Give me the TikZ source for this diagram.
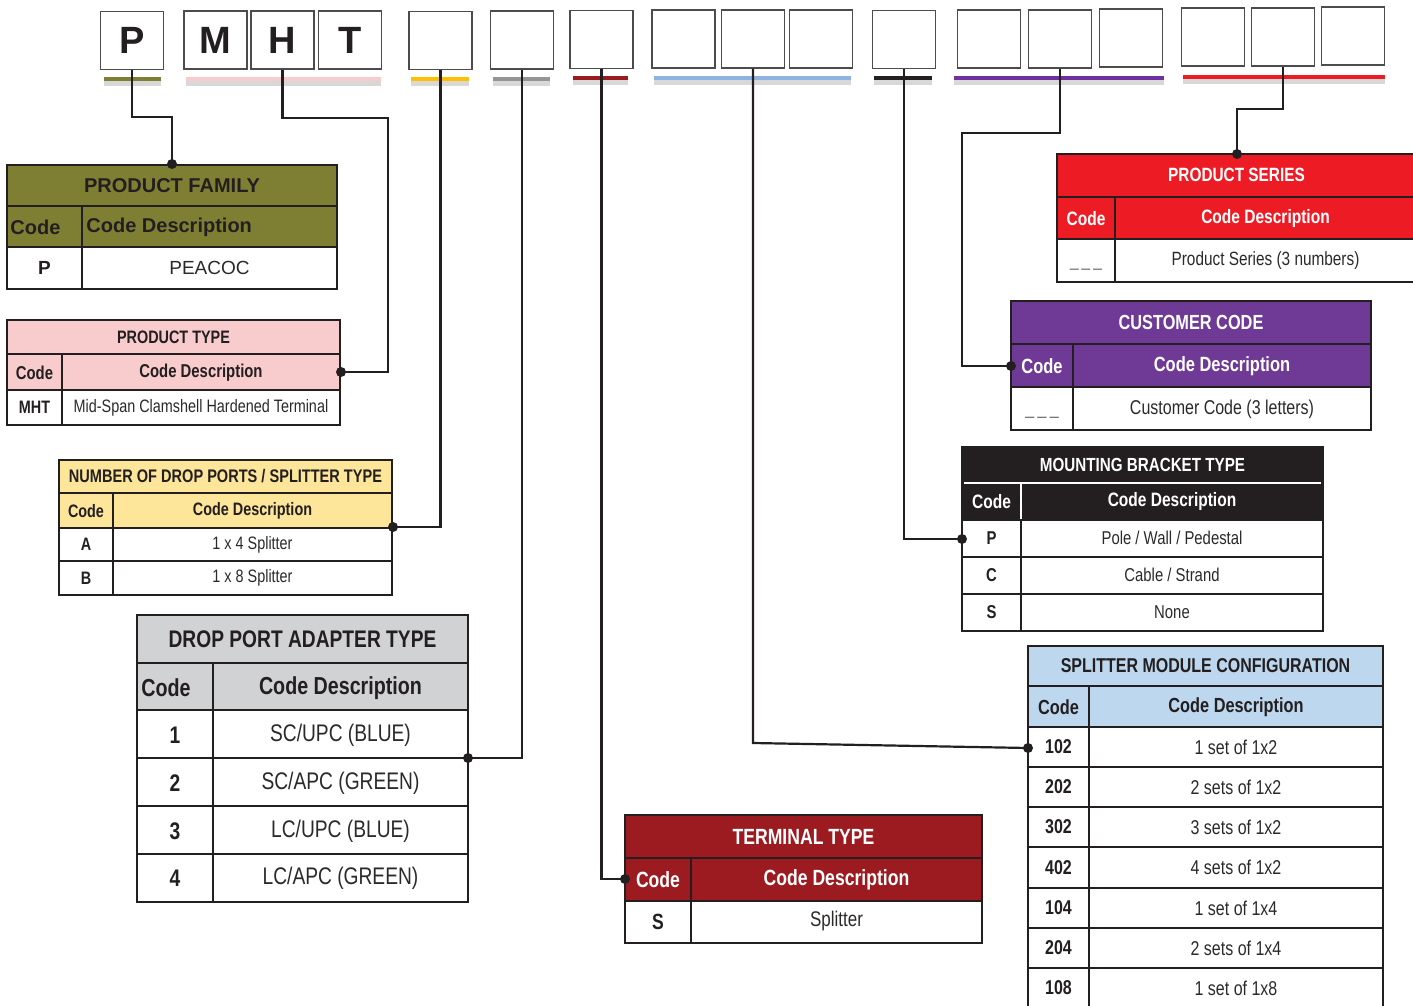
\documentclass[tikz,border=0pt]{standalone}
\usepackage{fontspec}
\setmainfont{Liberation Sans}
\newfontfamily\narrowfont[FakeStretch=0.8]{Liberation Sans}
\usepackage{tikz}

\definecolor{inkdark}{HTML}{231F20}
\definecolor{txtgray}{HTML}{2A2A2A}
\definecolor{famolive}{HTML}{7F7F33}
\definecolor{typpink}{HTML}{F8CBCD}
\definecolor{portyellow}{HTML}{FDE69A}
\definecolor{portgold}{HTML}{FFC000}
\definecolor{adagray}{HTML}{D1D2D4}
\definecolor{adabar}{HTML}{939598}
\definecolor{termred}{HTML}{9B1B20}
\definecolor{splblue}{HTML}{BDD7EE}
\definecolor{splbar}{HTML}{8DB3E2}
\definecolor{custpurple}{HTML}{6F3996}
\definecolor{custbar}{HTML}{7030A0}
\definecolor{serred}{HTML}{ED1C24}

\begin{document}
\begin{tikzpicture}[x=0.5pt,y=0.5pt,yscale=-1,
  codebox/.style={draw=black!70,line width=0.7pt,minimum width=31.5pt,minimum height=29pt,inner sep=0pt,text=inkdark,font=\bfseries\fontsize{19}{19}\selectfont},
  tabline/.style={draw=inkdark,line width=1.2pt},
  wire/.style={draw=inkdark,line width=1.1pt},
  bar/.style={line width=2.2pt},
  barshade/.style={draw=black!30,line width=3pt,opacity=0.5},
  hd/.style={inner sep=0pt,text=inkdark,font=\narrowfont\bfseries\fontsize{#1}{#1}\selectfont},
  tx/.style={inner sep=0pt,text=txtgray,font=\narrowfont\fontsize{#1}{#1}\selectfont},
  hdw/.style={inner sep=0pt,text=inkdark,font=\bfseries\fontsize{#1}{#1}\selectfont},
  txw/.style={inner sep=0pt,text=txtgray,font=\fontsize{#1}{#1}\selectfont}]
\useasboundingbox (0,0) rectangle (1413,1006);

% code boxes
\node[codebox] (famP) at (132,40.5) {P};
\node[codebox] (typM) at (215.5,40) {M};
\node[codebox] (typH) at (282.5,40) {H};
\node[codebox] (typT) at (350,40) {T};
\node[codebox] (ports) at (440.5,40.5) {};
\node[codebox] (adapt) at (522,40) {};
\node[codebox] (term) at (601.5,39.5) {};
\node[codebox] (splA) at (683.5,39) {};
\node[codebox] (splB) at (753,39) {};
\node[codebox] (splC) at (821,39) {};
\node[codebox] (mount) at (904,39.5) {};
\node[codebox] (custA) at (989,39) {};
\node[codebox] (custB) at (1060,39) {};
\node[codebox] (custC) at (1131,38) {};
\node[codebox] (serA) at (1213,37) {};
\node[codebox] (serB) at (1283,37) {};
\node[codebox] (serC) at (1353,36) {};

% colour bars
\draw[barshade] (104,83) -- (161,83);   \draw[bar,famolive] (104,79) -- (161,79);
\draw[barshade] (186,83) -- (381,83);   \draw[bar,typpink] (186,79) -- (381,79);
\draw[barshade] (411,83) -- (469,83);   \draw[bar,portgold] (411,79) -- (469,79);
\draw[barshade] (493,83) -- (550,83);   \draw[bar,adabar] (493,79) -- (550,79);
\draw[barshade] (573,82) -- (628,82);   \draw[bar,termred] (573,78) -- (628,78);
\draw[barshade] (654,82) -- (851,82);   \draw[bar,splbar] (654,78) -- (851,78);
\draw[barshade] (874,82) -- (932,82);   \draw[bar,inkdark] (874,78) -- (932,78);
\draw[barshade] (954,82) -- (1164,82);  \draw[bar,custbar] (954,78) -- (1164,78);
\draw[barshade] (1183,81) -- (1385,81); \draw[bar,serred] (1183,77) -- (1385,77);

%Table: product family
\fill[famolive] (7,165) rectangle (337,247);
\draw[tabline] (7,165) rectangle (337,289);
\draw[tabline] (7,206) -- (337,206) (7,247) -- (337,247) (82,206) -- (82,289);
\node[hdw=10] (famTitle) at (172,185.5) {PRODUCT FAMILY};
\node[hdw=10,anchor=west] (famCode) at (10,227.5) {Code};
\node[hdw=10,anchor=west] (famDesc) at (86,227.5) {Code Description};
\node[hdw=9.5] (famC1) at (44.5,268) {P};
\node[txw=9.5] (famD1) at (209.5,268) {PEACOC};

%Table: product type
\fill[typpink] (7,320) rectangle (340,390);
\draw[tabline] (7,320) rectangle (340,425);
\draw[tabline] (7,354) -- (340,354) (7,390) -- (340,390) (62,354) -- (62,425);
\node[hd=9] (typTitle) at (173.5,337) {PRODUCT TYPE};
\node[hd=9.3] (typCode) at (34.5,373) {Code};
\node[hd=9.3] (typDesc) at (201,373) {Code Description};
\node[hd=9] (typC1) at (34.5,407.5) {MHT};
\node[tx=9] (typD1) at (201,407.5) {Mid-Span Clamshell Hardened Terminal};

%Table: drop ports / splitter type
\fill[portyellow] (59,460) rectangle (392,528);
\draw[tabline] (59,460) rectangle (392,595);
\draw[tabline] (59,493) -- (392,493) (59,528) -- (392,528) (59,561) -- (392,561) (113,493) -- (113,595);
\node[hd=9.1] (portTitle) at (225.5,476.5) {NUMBER OF DROP PORTS / SPLITTER TYPE};
\node[hd=9] (portCode) at (86,511) {Code};
\node[hd=9] (portDesc) at (252.5,511) {Code Description};
\node[hd=9] (portC1) at (86,544.5) {A};
\node[tx=9] (portD1) at (252.5,544.5) {1 x 4 Splitter};
\node[hd=9] (portC2) at (86,578) {B};
\node[tx=9] (portD2) at (252.5,578) {1 x 8 Splitter};

%Table: drop port adapter type
\fill[adagray] (137,615) rectangle (468,710);
\draw[tabline] (137,615) rectangle (468,902);
\draw[tabline] (137,663) -- (468,663) (137,710) -- (468,710) (137,758) -- (468,758)
  (137,806) -- (468,806) (137,854) -- (468,854) (213,663) -- (213,902);
\node[hd=12] (adaTitle) at (302.5,639) {DROP PORT ADAPTER TYPE};
\node[hd=12.3,anchor=west] (adaCode) at (141,688) {Code};
\node[hd=12.3] (adaDesc) at (340.5,688) {Code Description};
\node[hd=12] (adaC1) at (175,735) {1};
\node[tx=12] (adaD1) at (340.5,735) {SC/UPC (BLUE)};
\node[hd=12] (adaC2) at (175,783) {2};
\node[tx=12] (adaD2) at (340.5,783) {SC/APC (GREEN)};
\node[hd=12] (adaC3) at (175,831) {3};
\node[tx=12] (adaD3) at (340.5,831) {LC/UPC (BLUE)};
\node[hd=12] (adaC4) at (175,878) {4};
\node[tx=12] (adaD4) at (340.5,878) {LC/APC (GREEN)};

%Table: terminal type
\fill[termred] (625,815) rectangle (982,901);
\draw[tabline] (625,815) rectangle (982,943);
\draw[tabline] (625,858) -- (982,858) (625,901) -- (982,901) (691,858) -- (691,943);
\node[hd=11,text=white] (termTitle) at (803.5,836.5) {TERMINAL TYPE};
\node[hd=11,text=white] (termCode) at (658,880) {Code};
\node[hd=11,text=white] (termDesc) at (836.5,880) {Code Description};
\node[hd=11] (termC1) at (658,922) {S};
\node[tx=10.6] (termD1) at (836.5,921) {Splitter};

%Table: splitter module configuration
\fill[splblue] (1028,646) rectangle (1383,727);
\draw[tabline] (1028,1012) -- (1028,646) -- (1383,646) -- (1383,1012);
\draw[tabline] (1028,686) -- (1383,686) (1028,727) -- (1383,727) (1028,767) -- (1383,767)
  (1028,807) -- (1383,807) (1028,847) -- (1383,847) (1028,888) -- (1383,888)
  (1028,928) -- (1383,928) (1028,968) -- (1383,968) (1089,686) -- (1089,1012);
\node[hd=10] (splTitle) at (1205.5,666) {SPLITTER MODULE CONFIGURATION};
\node[hd=10.2] (splCode) at (1058.5,707.5) {Code};
\node[hd=10.2] (splDesc) at (1236,707.5) {Code Description};
\node[hd=10] (splC1) at (1058.5,747) {102};
\node[tx=10] (splD1) at (1236,747) {1 set of 1x2};
\node[hd=10] (splC2) at (1058.5,787) {202};
\node[tx=10] (splD2) at (1236,787) {2 sets of 1x2};
\node[hd=10] (splC3) at (1058.5,827) {302};
\node[tx=10] (splD3) at (1236,827) {3 sets of 1x2};
\node[hd=10] (splC4) at (1058.5,867.5) {402};
\node[tx=10] (splD4) at (1236,867.5) {4 sets of 1x2};
\node[hd=10] (splC5) at (1058.5,908) {104};
\node[tx=10] (splD5) at (1236,908) {1 set of 1x4};
\node[hd=10] (splC6) at (1058.5,948) {204};
\node[tx=10] (splD6) at (1236,948) {2 sets of 1x4};
\node[hd=10] (splC7) at (1058.5,988) {108};
\node[tx=10] (splD7) at (1236,988) {1 set of 1x8};

%Table: mounting bracket type
\fill[inkdark] (962,447) rectangle (1323,520);
\draw[tabline] (962,447) rectangle (1323,631);
\draw[white,line width=0.8pt] (964,483) -- (1321,483) (1021,483) -- (1021,519);
\draw[tabline] (962,520) -- (1323,520) (962,557) -- (1323,557) (962,594) -- (1323,594) (1021,520) -- (1021,631);
\node[hd=9.5,text=white] (mntTitle) at (1142.5,465) {MOUNTING BRACKET TYPE};
\node[hd=9.7,text=white] (mntCode) at (991.5,502) {Code};
\node[hd=9.7,text=white] (mntDesc) at (1172,501) {Code Description};
\node[hd=9.3] (mntC1) at (991.5,538.5) {P};
\node[tx=9.3] (mntD1) at (1172,538) {Pole / Wall / Pedestal};
\node[hd=9.3] (mntC2) at (991.5,575.5) {C};
\node[tx=9.3] (mntD2) at (1172,575) {Cable / Strand};
\node[hd=9.3] (mntC3) at (991.5,612.5) {S};
\node[tx=9.3] (mntD3) at (1172,612) {None};

%Table: customer code
\fill[custpurple] (1011,301) rectangle (1371,387);
\draw[tabline] (1011,301) rectangle (1371,430);
\draw[tabline] (1011,344) -- (1371,344) (1011,387) -- (1371,387) (1073,344) -- (1073,430);
\node[hd=10.2,text=white] (custTitle) at (1191,322) {CUSTOMER CODE};
\node[hd=10.3,text=white] (custCode) at (1042,366.5) {Code};
\node[hd=10.3,text=white] (custDesc) at (1222,366.5) {Code Description};
\node[tx=10,text=black!55,anchor=base] (custC1) at (1042,414) {\_\,\_\,\_};
\node[tx=10] (custD1) at (1222,409.5) {Customer Code (3 letters)};

%Table: product series
\fill[serred] (1057,154) rectangle (1420,239);
\draw[tabline] (1420,154) -- (1057,154) -- (1057,282) -- (1420,282);
\draw[tabline] (1057,197) -- (1420,197) (1057,239) -- (1420,239) (1115,197) -- (1115,282);
\node[hd=9.6,text=white] (serTitle) at (1236.5,175) {PRODUCT SERIES};
\node[hd=9.7,text=white] (serCode) at (1086,218.5) {Code};
\node[hd=9.7,text=white] (serDesc) at (1265.5,218.5) {Code Description};
\node[tx=9.6,text=black!55,anchor=base] (serC1) at (1086,266) {\_\,\_\,\_};
\node[tx=9.6] (serD1) at (1265.5,261) {Product Series (3 numbers)};

% attach points
\coordinate (famIn) at (172,164);
\coordinate (typIn) at (341,372);
\coordinate (portIn) at (393,527);
\coordinate (adaIn) at (468,758);
\coordinate (termIn) at (625,879);
\coordinate (splIn) at (1028,748);
\coordinate (mntIn) at (962,539);
\coordinate (custIn) at (1011,366);
\coordinate (serIn) at (1237,154);

% connectors
\draw[wire] (famP.south) |- (172,117) -- (famIn);
\draw[wire] (typH.south) |- (388,118) |- (typIn);
\draw[wire] (ports.south) |- (portIn);
\draw[wire] (adapt.south) |- (adaIn);
\draw[wire] (term.south) |- (termIn);
\draw[wire] (splB.south) -- (753,743) -- (splIn);
\draw[wire] (mount.south) |- (mntIn);
\draw[wire] (custB.south) |- (962,133) |- (custIn);
\draw[wire] (serB.south) |- (1237,109) -- (serIn);

% dots
\foreach \p in {famIn,typIn,portIn,adaIn,termIn,splIn,mntIn,custIn,serIn}
  \fill[inkdark] (\p) circle (2.5pt);

\end{tikzpicture}
\end{document}
